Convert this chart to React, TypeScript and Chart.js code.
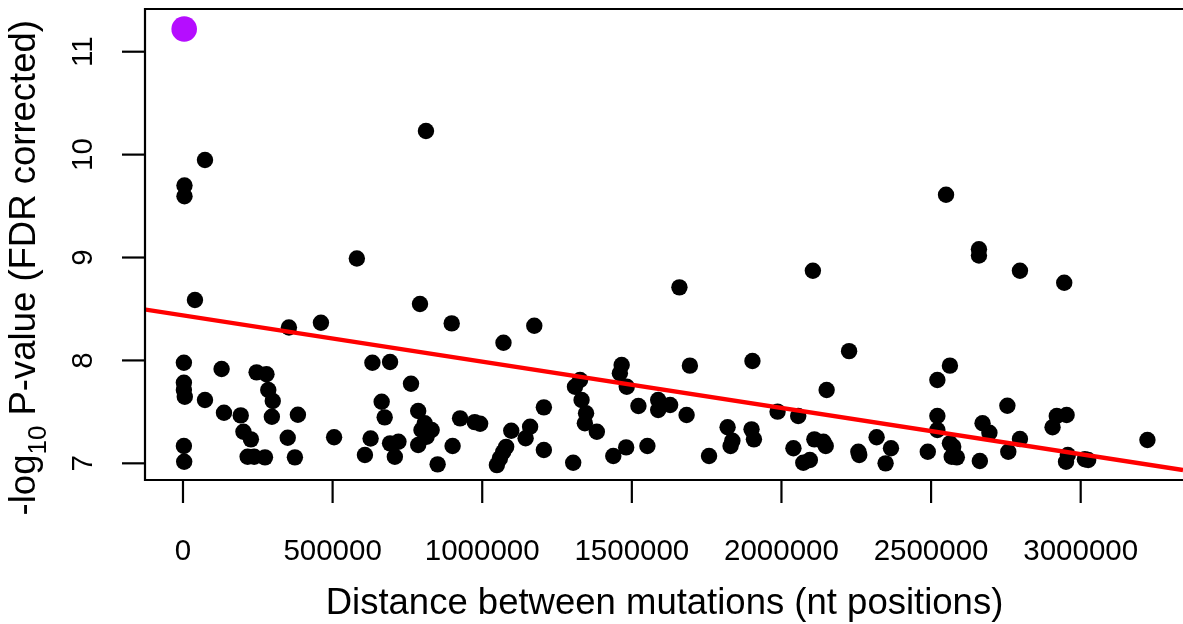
import React, { useEffect, useRef } from "react";
import { Chart, registerables } from "chart.js";

Chart.register(...registerables);

const CANVAS_W = 1183;
const CANVAS_H = 624;
const FONT = '"Liberation Sans", Arial, Helvetica, sans-serif';

// Distance between mutation pairs (nt) and their -log10 FDR-corrected P-values
const distance = [
  5000, 5000, 73500, 812000, 2550000, 2660000, 2660000, 581000, 2105000, 2797000,
  2945000, 1659000, 40000, 792000, 354000, 461000, 898000, 1174000, 1071000, 2226000,
  3000, 129000, 246000, 279000, 3000, 3000, 6000, 73500, 285000, 300000,
  137000, 193000, 297000, 384000, 202000, 227000, 350000, 505000, 3000, 4000,
  216000, 238000, 274000, 374000,
  633000, 692000, 762000, 664000, 674000, 786000, 808000, 831000, 814000, 786000,
  797000, 926000, 975000, 993000, 627000, 608000, 692000, 720000, 708000, 851000,
  901000, 1097000, 1160000, 1145000, 1206000, 1206000, 1049000, 1059000, 1070000, 1080000,
  1466000, 1460000, 1483000, 1694000, 1903000, 1327000, 1310000, 1332000, 1347000, 1343000,
  1383000, 1522000, 1588000, 1588000, 1628000, 1683000, 1304000, 1438000, 1481000, 1552000,
  1758000, 1820000, 1836000, 1830000, 1900000, 1908000,
  2563000, 2521000, 2151000, 1987000, 2056000, 2521000, 2521000, 2110000, 2148000, 2140000,
  2040000, 2073000, 2095000, 2257000, 2260000, 2318000, 2366000, 2348000, 2489000, 2563000,
  2574000, 2569000, 2586000,
  2755000, 2672000, 2695000, 2797000, 2758000, 2663000, 2920000, 2953000, 2906000, 2957000,
  2951000, 3014000, 3025000, 3223000,
];

const logP = [
  9.70, 9.595, 9.948, 10.23, 9.61, 9.08, 9.02, 8.99, 8.872, 8.872,
  8.755, 8.71, 8.587, 8.548, 8.32, 8.366, 8.36, 8.337, 8.172, 8.09,
  7.978, 7.916, 7.884, 7.865, 7.783, 7.712, 7.647, 7.615, 7.712, 7.605,
  7.492, 7.466, 7.453, 7.472, 7.307, 7.233, 7.249, 7.253, 7.168, 7.016,
  7.064, 7.064, 7.058, 7.058,
  7.978, 7.985, 7.774, 7.599, 7.447, 7.508, 7.389, 7.324, 7.259, 7.178,
  7.324, 7.437, 7.40, 7.385, 7.242, 7.081, 7.194, 7.21, 7.064, 6.99,
  7.168, 7.317, 7.356, 7.243, 7.544, 7.129, 6.983, 7.048, 7.11, 7.16,
  7.955, 7.875, 7.744, 7.949, 7.994, 7.81, 7.744, 7.615, 7.486, 7.389,
  7.307, 7.557, 7.615, 7.518, 7.567, 7.469, 7.006, 7.071, 7.155, 7.168,
  7.071, 7.35, 7.22, 7.168, 7.33, 7.233,
  7.949, 7.81, 7.712, 7.502, 7.46, 7.46, 7.324, 7.233, 7.168, 7.21,
  7.146, 7.006, 7.032, 7.113, 7.081, 7.253, 7.146, 7.0, 7.113, 7.194,
  7.162, 7.064, 7.058,
  7.56, 7.389, 7.297, 7.236, 7.113, 7.022, 7.46, 7.469, 7.35, 7.081,
  7.016, 7.039, 7.032, 7.227,
];

// Most significant pair, highlighted
const topDistance = [4000];
const topLogP = [11.22];

// Fitted trend line, end points at the plot limits
const trendDistance = [-130300, 3341900];
const trendLogP = [8.497, 6.935];

// Axis ticks and limits
const xTicks = [0, 500000, 1000000, 1500000, 2000000, 2500000, 3000000];
const xTickLabels = ["0", "500000", "1000000", "1500000", "2000000", "2500000", "3000000"];
const yTicks = [7, 8, 9, 10, 11];
const yTickLabels = ["7", "8", "9", "10", "11"];
const xLimits = [-130300, 3341900];
const yLimits = [6.838, 11.415];

const xTitle = "Distance between mutations (nt positions)";

const baseAxes = {
  id: "baseAxes",
  afterDraw(chart: any) {
    const { ctx, chartArea, scales } = chart;
    const xs = scales.x;
    const ys = scales.y;
    const left = chartArea.left;
    const top = chartArea.top;
    const bottom = chartArea.bottom;
    ctx.save();
    ctx.strokeStyle = "#000";
    ctx.fillStyle = "#000";
    ctx.lineWidth = 2.2;

    // plot box (right side falls outside the canvas)
    ctx.beginPath();
    ctx.moveTo(CANVAS_W + 10, top);
    ctx.lineTo(left + 1, top);
    ctx.lineTo(left + 1, bottom);
    ctx.lineTo(CANVAS_W + 10, bottom);
    ctx.stroke();

    // x ticks and labels
    ctx.font = `29.5px ${FONT}`;
    ctx.textAlign = "center";
    ctx.textBaseline = "alphabetic";
    xTicks.forEach((v, i) => {
      const px = xs.getPixelForValue(v);
      ctx.beginPath();
      ctx.moveTo(px, bottom);
      ctx.lineTo(px, bottom + 23);
      ctx.stroke();
      ctx.fillText(xTickLabels[i], px, 560);
    });

    // y ticks and rotated labels
    yTicks.forEach((v, i) => {
      const py = ys.getPixelForValue(v);
      ctx.beginPath();
      ctx.moveTo(left - 22, py);
      ctx.lineTo(left + 1, py);
      ctx.stroke();
      ctx.save();
      ctx.translate(92, py);
      ctx.rotate(-Math.PI / 2);
      ctx.fillText(yTickLabels[i], 0, 0);
      ctx.restore();
    });

    // x axis title
    ctx.font = `36.5px ${FONT}`;
    ctx.fillText(xTitle, (left + CANVAS_W + 2) / 2, 614);

    // y axis title with subscript
    const mainFont = `36.5px ${FONT}`;
    const subFont = `26px ${FONT}`;
    const parts = [
      { t: "-log", f: mainFont, dy: 0 },
      { t: "10", f: subFont, dy: 11 },
      { t: " P-value (FDR corrected)", f: mainFont, dy: 0 },
    ];
    let total = 0;
    parts.forEach((p) => {
      ctx.font = p.f;
      total += ctx.measureText(p.t).width;
    });
    ctx.save();
    ctx.translate(35, 20 + total);
    ctx.rotate(-Math.PI / 2);
    ctx.textAlign = "left";
    let pos = 0;
    parts.forEach((p) => {
      ctx.font = p.f;
      ctx.fillText(p.t, pos, p.dy);
      pos += ctx.measureText(p.t).width;
    });
    ctx.restore();

    ctx.restore();
  },
};

export default function App() {
  const canvasRef = useRef<HTMLCanvasElement | null>(null);

  useEffect(() => {
    const canvas = canvasRef.current;
    if (!canvas) return;

    const points = distance.map((d, i) => ({ x: d, y: logP[i] }));
    const top = topDistance.map((d, i) => ({ x: d, y: topLogP[i] }));
    const trend = trendDistance.map((d, i) => ({ x: d, y: trendLogP[i] }));

    const chart = new Chart(canvas, {
      type: "scatter",
      data: {
        datasets: [
          {
            label: "trend",
            data: trend,
            showLine: true,
            borderColor: "#FF0000",
            borderWidth: 4.3,
            pointRadius: 0,
            pointHoverRadius: 0,
            fill: false,
          },
          {
            label: "top",
            data: top,
            backgroundColor: "#B50DFF",
            borderWidth: 0,
            pointRadius: 12.8,
            pointHoverRadius: 12.8,
          },
          {
            label: "pairs",
            data: points,
            backgroundColor: "#000000",
            borderWidth: 0,
            pointRadius: 8.2,
            pointHoverRadius: 8.2,
          },
        ],
      },
      options: {
        animation: false,
        responsive: false,
        devicePixelRatio: 1,
        layout: { autoPadding: false, padding: { left: 144, top: 9, right: 0, bottom: 144 } },
        plugins: {
          legend: { display: false },
          tooltip: { enabled: false },
        },
        events: [],
        scales: {
          x: { type: "linear", min: xLimits[0], max: xLimits[1], display: false },
          y: { type: "linear", min: yLimits[0], max: yLimits[1], display: false },
        },
      },
      plugins: [baseAxes],
    });

    return () => chart.destroy();
  }, []);

  return (
    <div style={{ position: "absolute", left: 0, top: 0, width: CANVAS_W, height: CANVAS_H, background: "#fff" }}>
      <canvas ref={canvasRef} width={CANVAS_W} height={CANVAS_H} style={{ display: "block" }} />
    </div>
  );
}
